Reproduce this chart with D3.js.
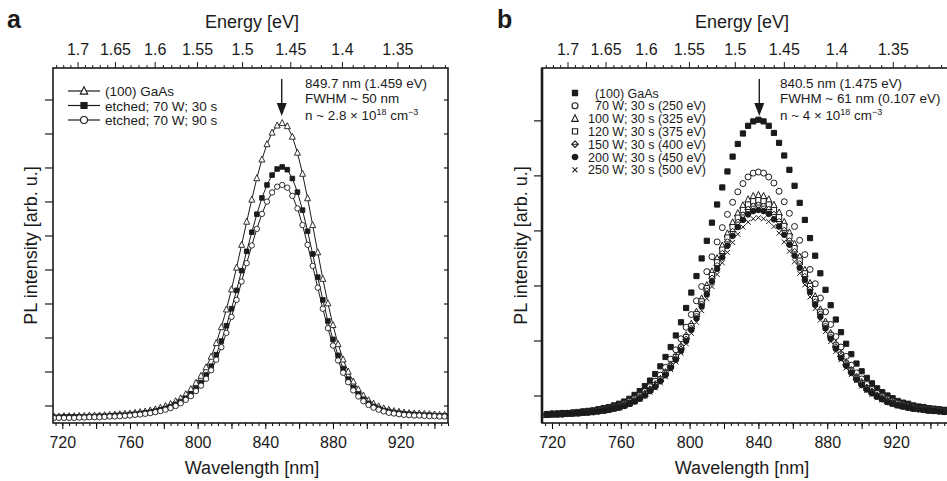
<!DOCTYPE html>
<html>
<head>
<meta charset="utf-8">
<script src="https://cdn.jsdelivr.net/npm/d3@7"></script>
<style>
  body { margin: 0; background: #fff; }
  text { font-family: "Liberation Sans", Arial, Helvetica, sans-serif; fill: #1b1b1b; }
</style>
</head>
<body>
<svg id="chart" width="947" height="481"></svg>
<script>
// ---- data (intensity in arbitrary units, 100 per y tick) ----
const wavelengthA = [715,718,721,724,727,730,733,736,739,742,745,748,751,754,757,760,763,766,769,772,
  775,778,781,784,787,790,793,796,799,802,805,808,811,814,817,820,823,826,829,832,835,838,841,844,847,
  850,853,856,859,862,865,868,871,874,877,880,883,886,889,892,895,898,901,904,907,910,913,916,919,922,
  925,928,931,934,937,940,943,946,949];
const gaAsA = [-31,-31,-30,-30,-30,-29,-29,-28,-28,-28,-27,-26,-25,-24,-23,-22,-20,-18,-16,-13,-10,-5,0,6,14,
  23,35,50,68,89,114,145,185,232,284,343,407,474,542,607,670,725,770,804,825,832,
  823,792,745,683,611,532,452,374,302,238,182,137,101,72,49,31,17,7,-1,-7,-11,-15,-17,-19,-21,-22,-22,-23,
  -24,-25,-26,-26,-27];
const etched30A = [-33,-33,-32,-32,-32,-32,-32,-31,-31,-30,-30,-29,-28,-27,-27,-25,-24,-22,-20,-18,-15,-11,-7,-2,5,
  13,23,36,51,69,91,117,151,191,236,286,340,398,455,511,564,612,650,679,697,703,
  695,669,629,576,514,447,379,312,250,196,149,110,79,54,35,20,8,-1,-7,-13,-16,-19,-21,-23,-24,-25,-26,-27,
  -27,-28,-29,-29,-30];
const etched90A = [-35,-35,-35,-35,-35,-34,-34,-33,-33,-33,-32,-31,-31,-30,-29,-28,-26,-25,-23,-21,-18,-15,-11,-6,0,
  8,18,29,44,60,80,105,136,173,215,262,312,366,420,472,521,565,601,628,645,650,
  642,618,581,532,474,412,348,286,229,178,134,98,70,46,28,14,3,-5,-11,-16,-20,-22,-24,-26,-27,-28,-28,-29,
  -30,-30,-31,-31,-32];
const legendA = ['(100) GaAs', 'etched; 70 W; 30 s', 'etched; 70 W; 90 s'];

const wavelengthB = [717,720,723,726,729,732,735,738,741,744,747,750,753,756,759,762,765,768,771,774,
  777,780,783,786,789,792,795,798,801,804,807,810,813,816,819,822,825,828,831,834,837,840,
  843,846,849,852,855,858,861,864,867,870,873,876,879,882,885,888,891,894,897,900,903,906,909,912,915,918,
  921,924,927,930,933,936,939,942,945,948];
const gaAsB = [-33,-32,-32,-31,-31,-30,-29,-28,-27,-26,-24,-22,-20,-17,-14,-10,-5,2,9,18,28,40,54,71,89,110,134,160,
  188,218,250,282,315,348,379,408,435,458,477,491,499,502,
  499,491,478,460,437,411,382,351,320,287,255,223,193,165,139,116,95,76,59,45,33,23,14,7,1,-4,-9,-12,-14,
  -17,-19,-20,-22,-23,-24,-25];
const w70B = [-33,-33,-32,-32,-32,-31,-30,-29,-28,-28,-26,-24,-23,-20,-18,-14,-10,-5,1,8,17,27,38,52,67,84,104,125,
  148,173,199,226,253,280,306,330,352,371,386,398,405,407,
  405,398,387,372,353,332,308,283,257,230,204,178,153,130,108,89,72,56,42,31,21,12,5,-1,-6,-10,-13,-16,-18,
  -20,-22,-23,-24,-25,-26,-27];
const w100B = [-34,-33,-33,-32,-32,-31,-31,-30,-29,-28,-27,-26,-24,-22,-20,-16,-13,-8,-2,4,12,21,31,43,57,73,91,110,
  131,153,177,201,226,250,273,295,315,332,346,357,363,365,
  363,357,347,333,316,297,276,253,229,205,181,157,135,114,95,77,61,47,35,25,15,8,1,-4,-9,-12,-16,-18,-20,
  -22,-23,-24,-26,-26,-27,-28];
const w120B = [-34,-33,-33,-33,-32,-31,-31,-30,-29,-29,-27,-26,-24,-22,-20,-17,-13,-9,-3,3,11,20,30,42,55,71,88,107,
  127,149,172,196,220,243,266,288,307,324,338,348,354,356,
  354,348,338,325,309,290,269,246,223,200,176,153,131,111,92,75,59,46,33,23,14,7,0,-5,-9,-13,-16,-18,-20,
  -22,-23,-25,-26,-27,-27,-28];
const w150B = [-34,-33,-33,-33,-32,-31,-31,-30,-30,-29,-28,-26,-25,-23,-20,-17,-14,-9,-4,2,10,18,28,40,53,68,85,103,
  123,145,167,191,214,237,259,280,299,316,329,339,345,347,
  345,339,330,317,301,282,262,240,217,194,171,149,127,107,89,72,57,44,32,22,13,6,0,-5,-10,-13,-16,-19,-21,
  -22,-24,-25,-26,-27,-28,-28];
const w200B = [-34,-33,-33,-33,-32,-32,-31,-30,-30,-29,-28,-26,-25,-23,-21,-18,-14,-10,-5,1,9,17,27,38,51,66,82,100,
  120,141,163,185,208,231,252,273,291,307,320,330,336,338,
  336,331,321,308,293,275,255,233,211,189,166,144,123,104,86,69,55,42,30,20,12,5,-1,-6,-11,-14,-17,-19,-21,
  -23,-24,-25,-26,-27,-28,-29];
const w250B = [-34,-33,-33,-33,-32,-32,-31,-31,-30,-29,-28,-27,-25,-23,-21,-18,-15,-11,-6,0,7,15,24,35,48,62,78,95,
  114,134,155,177,199,221,242,261,279,294,307,316,322,324,
  322,317,308,296,280,263,244,223,202,180,159,138,117,99,81,66,51,39,28,18,10,3,-3,-7,-12,-15,-18,-20,-22,
  -23,-24,-26,-27,-27,-28,-29];
const legendB = ['\u2007(100) GaAs', '\u200770 W; 30 s (250 eV)', '100 W; 30 s (325 eV)', '120 W; 30 s (375 eV)',
  '150 W; 30 s (400 eV)', '200 W; 30 s (450 eV)', '250 W; 30 s (500 eV)'];

const wavelengthTicks = [720, 760, 800, 840, 880, 920];
const energyTicks = [1.7, 1.65, 1.6, 1.55, 1.5, 1.45, 1.4, 1.35];
const intensityTicks = [0, 100, 200, 300, 400, 500, 600, 700, 800, 900];
const HC = 1239.84; // eV nm

const ink = '#1b1b1b';
const svg = d3.select('#chart');

// marker shapes centred on 0,0
function marker(type, s) {
  const r = s / 2;
  if (type === 'triangle') return `M0,${-s * 0.58}L${r},${s * 0.42}L${-r},${s * 0.42}Z`;
  if (type === 'square') return `M${-r},${-r}h${s}v${s}h${-s}Z`;
  if (type === 'circle') return `M${r},0A${r},${r} 0 1,1 ${-r},0A${r},${r} 0 1,1 ${r},0Z`;
  if (type === 'diamond') return `M0,${-r}L${r},0L0,${r}L${-r},0ZM${-r},0L${r},0`;
  if (type === 'cross') return `M${-r},${-r}L${r},${r}M${-r},${r}L${r},${-r}`;
}

function drawFrame(g, x, y, box, yTicks, rightTicks) {
  const { left, right, top, bottom } = box;

  // bottom wavelength axis: minor every 4 nm, major every 20 nm
  const minorW = d3.range(716, 950, 4).filter(d => d >= x.domain()[0] && d <= x.domain()[1]);
  const majorW = d3.range(720, 950, 20).filter(d => d <= x.domain()[1]);
  g.append('g').attr('transform', `translate(0,${bottom})`)
    .call(d3.axisBottom(x).tickValues(minorW).tickSize(3).tickSizeOuter(0).tickFormat(''))
    .call(a => a.select('.domain').remove());
  g.append('g').attr('transform', `translate(0,${bottom})`)
    .call(d3.axisBottom(x).tickValues(majorW).tickSize(6).tickSizeOuter(0).tickPadding(8)
      .tickFormat(d => wavelengthTicks.includes(d) ? d : ''))
    .call(a => a.select('.domain').remove())
    .call(a => a.selectAll('text').attr('font-size', 16).attr('fill', ink)
      .attr('font-family', '"Liberation Sans", Arial, sans-serif'));

  // top energy axis (nonlinear in wavelength)
  const eLo = HC / x.domain()[1], eHi = HC / x.domain()[0];
  const minorE = d3.range(130, 175).map(d => d / 100).filter(e => e >= eLo && e <= eHi);
  g.append('g').selectAll('line').data(minorE).join('line')
    .attr('x1', e => x(HC / e)).attr('x2', e => x(HC / e))
    .attr('y1', top).attr('y2', e => top - (Math.round(e * 100) % 5 === 0 ? 6 : 3))
    .attr('stroke', ink).attr('stroke-width', 1);
  g.append('g').selectAll('text').data(energyTicks).join('text')
    .attr('x', e => x(HC / e)).attr('y', top - 13)
    .attr('text-anchor', 'middle').attr('font-size', 16)
    .text(e => e);

  // left ticks (outward) and right ticks (inward), no labels
  g.append('g').selectAll('line').data(yTicks).join('line')
    .attr('x1', left - 8).attr('x2', left).attr('y1', d => y(d)).attr('y2', d => y(d))
    .attr('stroke', ink).attr('stroke-width', 1.2);
  if (rightTicks) {
    g.append('g').selectAll('line').data(yTicks).join('line')
      .attr('x1', right - 4).attr('x2', right).attr('y1', d => y(d)).attr('y2', d => y(d))
      .attr('stroke', ink).attr('stroke-width', 1.2);
  }

  g.append('rect')
    .attr('x', left).attr('y', top).attr('width', right - left).attr('height', bottom - top)
    .attr('fill', 'none').attr('stroke', ink).attr('stroke-width', 1.6);
}

function axisTitles(g, cx, box, yLabelX) {
  g.append('text').attr('x', cx).attr('y', 28).attr('text-anchor', 'middle')
    .attr('font-size', 18).text('Energy [eV]');
  g.append('text').attr('x', cx).attr('y', 474).attr('text-anchor', 'middle')
    .attr('font-size', 18).text('Wavelength [nm]');
  g.append('text').attr('transform', `translate(${yLabelX},${(box.top + box.bottom) / 2}) rotate(-90)`)
    .attr('text-anchor', 'middle').attr('font-size', 18).text('PL intensity [arb. u.]');
}

function annotate(g, ax, lines, tx) {
  g.append('line').attr('x1', ax).attr('x2', ax).attr('y1', 79).attr('y2', 106)
    .attr('stroke', ink).attr('stroke-width', 1.4);
  g.append('path').attr('d', `M${ax - 5},103L${ax + 5},103L${ax},116Z`).attr('fill', ink);
  const t = g.append('g').attr('font-size', 13.4);
  t.append('text').attr('x', tx).attr('y', 88).text(lines[0]);
  t.append('text').attr('x', tx).attr('y', 103).text(lines[1]);
  const n = t.append('text').attr('x', tx).attr('y', 120);
  n.append('tspan').text(lines[2]);
  n.append('tspan').attr('font-size', 9).attr('dy', -5).text('18');
  n.append('tspan').attr('dy', 5).text(' cm');
  n.append('tspan').attr('font-size', 9).attr('dy', -5).text('\u22123');
}

// ================= panel a =================
{
  const box = { left: 53, right: 448, top: 68, bottom: 423 };
  const x = d3.scaleLinear().domain([714.5, 948]).range([box.left, box.right]);
  const y = d3.scaleLinear().domain([-50, 994]).range([box.bottom, box.top]);
  const g = svg.append('g');

  svg.append('defs').append('clipPath').attr('id', 'clipA')
    .append('rect').attr('x', box.left).attr('y', box.top)
    .attr('width', box.right - box.left).attr('height', box.bottom - box.top);

  const series = [
    { values: gaAsA, shape: 'triangle', size: 6, fill: '#fff' },
    { values: etched30A, shape: 'square', size: 4.6, fill: ink },
    { values: etched90A, shape: 'circle', size: 5.4, fill: '#fff' }
  ];
  const line = d3.line().x((d, i) => x(wavelengthA[i])).y(d => y(d));
  const data = g.append('g').attr('clip-path', 'url(#clipA)');
  series.forEach(s => {
    data.append('path').datum(s.values).attr('d', line)
      .attr('fill', 'none').attr('stroke', ink).attr('stroke-width', 1);
    data.append('g').selectAll('path').data(s.values).join('path')
      .attr('transform', (d, i) => `translate(${x(wavelengthA[i])},${y(d)})`)
      .attr('d', marker(s.shape, s.size))
      .attr('fill', s.fill).attr('stroke', ink).attr('stroke-width', 0.9);
  });

  drawFrame(g, x, y, box, intensityTicks, true);
  axisTitles(g, 252, box, 37);

  // legend
  const lg = g.append('g');
  legendA.forEach((name, i) => {
    const cy = 91 + i * 14.5;
    lg.append('line').attr('x1', 68).attr('x2', 100).attr('y1', cy).attr('y2', cy)
      .attr('stroke', ink).attr('stroke-width', 1.2);
    lg.append('path').attr('transform', `translate(84,${cy})`)
      .attr('d', marker(series[i].shape, series[i].size + 1.5))
      .attr('fill', series[i].fill).attr('stroke', ink).attr('stroke-width', 1.1);
    lg.append('text').attr('x', 105).attr('y', cy + 5).attr('font-size', 13.5).text(name);
  });

  annotate(g, x(849.7), ['849.7 nm (1.459 eV)', 'FWHM ~ 50 nm', 'n ~ 2.8 \u00d7 10'], 305);
  g.append('text').attr('x', 7).attr('y', 28).attr('font-size', 25).attr('font-weight', 'bold').text('a');
}

// ================= panel b =================
{
  const box = { left: 542, right: 948, top: 68, bottom: 423 };
  const x = d3.scaleLinear().domain([714.2, 950.2]).range([box.left, box.right]);
  const y = d3.scaleLinear().domain([-49, 596]).range([box.bottom, box.top]);
  const g = svg.append('g');

  svg.select('defs').append('clipPath').attr('id', 'clipB')
    .append('rect').attr('x', box.left).attr('y', box.top)
    .attr('width', box.right - box.left).attr('height', box.bottom - box.top);

  const series = [
    { values: gaAsB, shape: 'square', size: 5.2, fill: ink },
    { values: w70B, shape: 'circle', size: 6, fill: '#fff' },
    { values: w100B, shape: 'triangle', size: 6.5, fill: '#fff' },
    { values: w120B, shape: 'square', size: 5.2, fill: '#fff' },
    { values: w150B, shape: 'diamond', size: 6.5, fill: '#fff' },
    { values: w200B, shape: 'circle', size: 5.6, fill: ink },
    { values: w250B, shape: 'cross', size: 5, fill: 'none' }
  ];
  const data = g.append('g').attr('clip-path', 'url(#clipB)');
  series.forEach(s => {
    data.append('g').selectAll('path').data(s.values).join('path')
      .attr('transform', (d, i) => `translate(${x(wavelengthB[i])},${y(d)})`)
      .attr('d', marker(s.shape, s.size))
      .attr('fill', s.fill).attr('stroke', ink).attr('stroke-width', 1);
  });

  drawFrame(g, x, y, box, [0, 100, 200, 300, 400, 500], false);
  g.append('line').attr('x1', box.left).attr('x2', box.left).attr('y1', box.top).attr('y2', box.bottom)
    .attr('stroke', ink).attr('stroke-width', 2.6);
  axisTitles(g, 742, box, 527);

  const lg = g.append('g');
  legendB.forEach((name, i) => {
    const cy = 93 + i * 12.8;
    lg.append('path').attr('transform', `translate(575,${cy})`)
      .attr('d', marker(series[i].shape, series[i].size))
      .attr('fill', series[i].fill).attr('stroke', ink).attr('stroke-width', 1.1);
    lg.append('text').attr('x', 588).attr('y', cy + 4.5).attr('font-size', 12.5).text(name);
  });

  annotate(g, x(840.5), ['840.5 nm (1.475 eV)', 'FWHM ~ 61 nm (0.107 eV)', 'n ~ 4 \u00d7 10'], 780);
  g.append('text').attr('x', 497).attr('y', 28).attr('font-size', 25).attr('font-weight', 'bold').text('b');
}
</script>
</body>
</html>
